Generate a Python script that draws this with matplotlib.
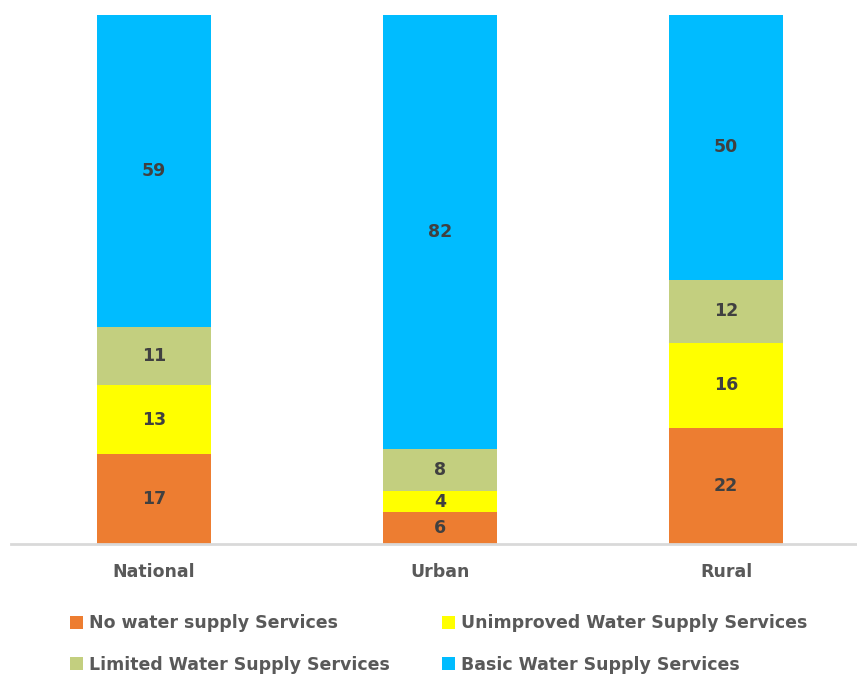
import matplotlib.pyplot as plt
import numpy as np

plt.rcParams['font.family'] = ['DejaVu Sans']

# data (percent)
areas = ['National', 'Urban', 'Rural']
no_water = [17, 6, 22]
unimproved = [13, 4, 16]
limited = [11, 8, 12]
basic = [59, 82, 50]

series = [
    ('No water supply Services', no_water, '#ED7D31'),
    ('Unimproved Water Supply Services', unimproved, '#FFFF00'),
    ('Limited Water Supply Services', limited, '#C3CF7F'),
    ('Basic Water Supply Services', basic, '#00BCFF'),
]

fig = plt.figure(figsize=(8.57, 6.75), dpi=100)
ax = fig.add_axes([11 / 857, 131 / 675, 858 / 857, 529 / 675])

x = np.arange(len(areas))
bottom = np.zeros(len(areas))
handles = {}
for name, vals, col in series:
    bars = ax.bar(x, vals, width=0.40, bottom=bottom, color=col, label=name)
    handles[name] = bars
    for xi, b, v in zip(x, bottom, vals):
        ax.text(xi, b + v / 2, str(v), ha='center', va='center',
                fontsize=12.5, fontweight='bold', color='#404040')
    bottom += np.array(vals)

ax.set_xlim(-0.5, 2.5)
ax.set_ylim(0, 100)
ax.set_yticks([])
ax.set_xticks(x)
ax.set_xticklabels(areas, fontsize=12.5, fontweight='bold', color='#595959')
ax.tick_params(axis='x', length=0, pad=14)
for s in ['top', 'right', 'left']:
    ax.spines[s].set_visible(False)
ax.spines['bottom'].set_color('#D9D9D9')
ax.spines['bottom'].set_linewidth(2)

order = ['No water supply Services', 'Limited Water Supply Services',
         'Unimproved Water Supply Services', 'Basic Water Supply Services']
leg = fig.legend([handles[n] for n in order], order, ncol=2,
                 loc='center left', bbox_to_anchor=(54 / 857, 1 - 644 / 675),
                 frameon=False, handlelength=0.75, handleheight=0.75,
                 handletextpad=0.35, columnspacing=3.0, labelspacing=1.35,
                 prop={'size': 12.5, 'weight': 'bold'})
for t in leg.get_texts():
    t.set_color('#595959')

plt.savefig('out.png', dpi=100)
